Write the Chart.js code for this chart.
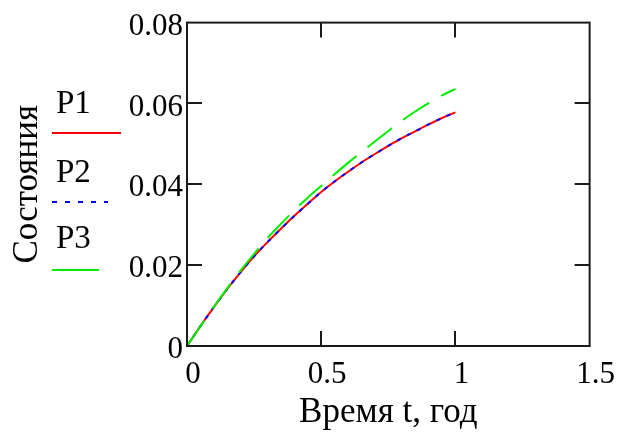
<!DOCTYPE html>
<html>
<head>
<meta charset="utf-8">
<title>Состояния</title>
<script src="https://cdn.jsdelivr.net/npm/chart.js@4/dist/chart.umd.min.js"></script>
<style>
  html, body { margin: 0; padding: 0; background: #ffffff; }
  #wrap { width: 619px; height: 436px; }
</style>
</head>
<body>
<div id="wrap"><canvas id="chart" width="619" height="436"></canvas></div>
<script>
// Time in years
const tYears = [0, 0.05, 0.10, 0.15, 0.20, 0.25, 0.30, 0.35, 0.40, 0.45, 0.50,
                0.55, 0.60, 0.65, 0.70, 0.75, 0.80, 0.85, 0.90, 0.95, 1.00];

// State probabilities
const p1 = [0, 0.0049, 0.0096, 0.0141, 0.0183, 0.0222, 0.0257, 0.0290, 0.0322, 0.0352, 0.0381,
            0.0407, 0.0431, 0.0454, 0.0475, 0.0495, 0.0514, 0.0531, 0.0548, 0.0564, 0.0578];
const p2 = [0, 0.0049, 0.0096, 0.0141, 0.0183, 0.0222, 0.0257, 0.0290, 0.0322, 0.0352, 0.0381,
            0.0407, 0.0431, 0.0454, 0.0475, 0.0495, 0.0514, 0.0531, 0.0548, 0.0564, 0.0578];
const p3 = [0, 0.0049, 0.0097, 0.0143, 0.0187, 0.0228, 0.0267, 0.0302, 0.0336, 0.0367, 0.0396,
            0.0425, 0.0453, 0.0480, 0.0506, 0.0532, 0.0557, 0.0580, 0.0601, 0.0620, 0.0636];

const seriesNames = ['P1', 'P2', 'P3'];
const xTitle = 'Время t, год';
const yTitle = 'Состояния';

const SERIF = '"Liberation Serif", "Times New Roman", serif';
const INK = '#000000';

function pts(values) {
  return values.map((v, i) => ({ x: tYears[i], y: v }));
}

// Plain numbers: 0, 0.5, 1, 1.5 / 0, 0.02 ...
function plain(v) {
  return String(Number(v.toFixed(4)));
}

// Mathcad-style frame with inward tick marks on all four sides
const framePlugin = {
  id: 'frame',
  afterDraw(chart) {
    const { ctx, chartArea: a, scales } = chart;
    const len = 15;
    ctx.save();
    ctx.strokeStyle = '#1a1a1a';
    ctx.lineWidth = 2;
    ctx.strokeRect(a.left, a.top, a.right - a.left, a.bottom - a.top);
    ctx.beginPath();
    scales.x.ticks.forEach(t => {
      const px = Math.round(scales.x.getPixelForValue(t.value));
      if (px <= a.left + 1 || px >= a.right - 1) return;
      ctx.moveTo(px, a.bottom); ctx.lineTo(px, a.bottom - len);
      ctx.moveTo(px, a.top);    ctx.lineTo(px, a.top + len);
    });
    scales.y.ticks.forEach(t => {
      const py = Math.round(scales.y.getPixelForValue(t.value));
      if (py <= a.top + 1 || py >= a.bottom - 1) return;
      ctx.moveTo(a.left, py);  ctx.lineTo(a.left + len, py);
      ctx.moveTo(a.right, py); ctx.lineTo(a.right - len, py);
    });
    ctx.stroke();
    ctx.restore();
  }
};

// Stacked trace legend to the left of the value axis: name above a line sample
const traceLegend = {
  id: 'traceLegend',
  afterDraw(chart, args, opts) {
    const { ctx } = chart;
    ctx.save();
    ctx.font = '33px ' + SERIF;
    ctx.fillStyle = INK;
    ctx.textAlign = 'left';
    ctx.textBaseline = 'alphabetic';
    chart.data.datasets.forEach((ds, i) => {
      const it = opts.items[i];
      ctx.fillText(ds.label, opts.x + 4, it.baseline);
      ctx.beginPath();
      ctx.strokeStyle = ds.borderColor;
      ctx.lineWidth = 2;
      ctx.setLineDash(it.dash);
      ctx.moveTo(opts.x, it.lineY);
      ctx.lineTo(opts.x + it.lineLen, it.lineY);
      ctx.stroke();
    });
    ctx.restore();
  }
};

new Chart(document.getElementById('chart'), {
  type: 'line',
  data: {
    datasets: [
      { label: seriesNames[0], data: pts(p1), borderColor: '#ff0000', borderWidth: 2,
        pointRadius: 0, cubicInterpolationMode: 'monotone', order: 2 },
      { label: seriesNames[1], data: pts(p2), borderColor: '#0000ff', borderWidth: 2,
        borderDash: [4, 7], pointRadius: 0, cubicInterpolationMode: 'monotone', order: 1 },
      { label: seriesNames[2], data: pts(p3), borderColor: '#00ee00', borderWidth: 2,
        borderDash: [31, 14], pointRadius: 0, cubicInterpolationMode: 'monotone', order: 0 }
    ]
  },
  options: {
    responsive: false,
    animation: false,
    devicePixelRatio: 1,
    layout: { padding: { top: 19, right: 27, left: 0, bottom: 0 } },
    plugins: {
      legend: { display: false },
      tooltip: { enabled: false },
      traceLegend: {
        x: 52,
        items: [
          { baseline: 113, lineY: 133, lineLen: 69, dash: [] },
          { baseline: 182, lineY: 202, lineLen: 56, dash: [5, 8] },
          { baseline: 248, lineY: 270, lineLen: 47, dash: [] }
        ]
      }
    },
    scales: {
      x: {
        type: 'linear',
        min: 0, max: 1.5,
        grid: { display: false, drawTicks: false },
        border: { display: false },
        ticks: { stepSize: 0.5, padding: 10, labelOffset: 6, color: INK,
                 maxRotation: 0, font: { family: SERIF, size: 31 },
                 callback: v => plain(v) },
        title: { display: true, text: xTitle, color: INK,
                 font: { family: SERIF, size: 35 }, padding: { top: 0, bottom: 2 } },
        afterFit(scale) { scale.height = 90; }
      },
      y: {
        type: 'linear',
        min: 0, max: 0.08,
        grid: { display: false, drawTicks: false },
        border: { display: false },
        ticks: { stepSize: 0.02, padding: 4, labelOffset: 4, color: INK,
                 font: { family: SERIF, size: 31 },
                 callback: v => plain(v) },
        title: { display: true, text: yTitle, color: INK,
                 font: { family: SERIF, size: 35 }, padding: { top: 7, bottom: 0 } },
        afterFit(scale) { scale.width = 187; }
      }
    }
  },
  plugins: [framePlugin, traceLegend]
});
</script>
</body>
</html>
